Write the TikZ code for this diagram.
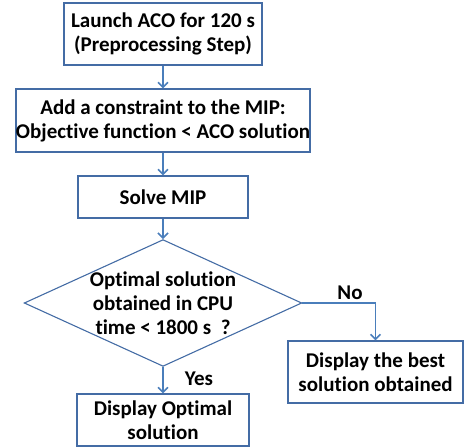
\documentclass[tikz,border=0pt]{standalone}
\usepackage{fontspec}
\setmainfont[Ligatures=NoCommon]{Carlito}
\usetikzlibrary{shapes.geometric}
\usetikzlibrary{arrows.meta}

\definecolor{frameBlue}{RGB}{68,108,165}
\definecolor{arrowBlue}{RGB}{74,126,187}

\begin{document}
\begin{tikzpicture}[x=1pt,y=1pt,
        font=\fontsize{21}{24}\selectfont\bfseries,
        boxNode/.style = {shape=rectangle,draw=frameBlue,line width=1.1pt,align=center,inner sep=0pt},
        decisionNode/.style = {shape=diamond,draw=frameBlue,line width=1.1pt,align=center,inner sep=-1pt,aspect=2.19}, % test on the CPU time
        labelNode/.style = {inner sep=0pt},
        arrowLine/.style = {draw=arrowBlue,line width=1.6pt,-{Straight Barb[length=5pt,width=10pt]}}
        ]
        \useasboundingbox (0,0) rectangle (469,447);
        \node[boxNode,minimum width=198pt,minimum height=62pt] (launch) at (163,413) {Launch ACO for 120 s\\(Preprocessing Step)};
        \node[boxNode,minimum width=294pt,minimum height=63pt] (addCut) at (163,326.5) {Add a constraint to the MIP:\\Objective function < ACO solution};
        \node[boxNode,minimum width=170pt,minimum height=42pt] (solve) at (163,250) {Solve MIP};
        \node[decisionNode] (check) at (163,144) {Optimal solution\\obtained in CPU\\time < 1800 s~~?};
        \node[boxNode,minimum width=175pt,minimum height=62pt] (best) at (375.5,75) {Display the best\\solution obtained};
        \node[boxNode,minimum width=172pt,minimum height=52pt] (optimal) at (163,27) {Display Optimal\\solution};
        \node[labelNode] (noLabel) at (350,154) {No};
        \node[labelNode] (yesLabel) at (199,68) {Yes};
        \draw[arrowLine] (launch) -- (addCut);
        \draw[arrowLine] (addCut) -- (solve);
        \draw[arrowLine] (solve) -- (check);
        \draw[arrowLine] (check) -- (optimal);
        \draw[arrowLine] (check.east) -| (best.north);
\end{tikzpicture}
\end{document}
